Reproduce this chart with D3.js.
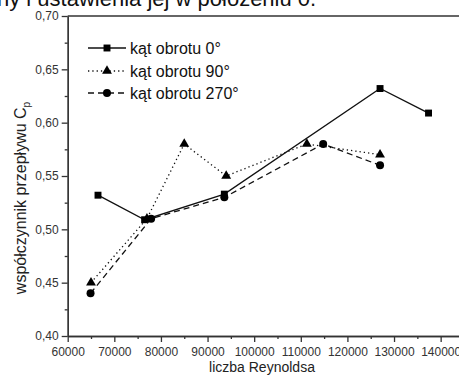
<!DOCTYPE html>
<html>
<head>
<meta charset="utf-8">
<script src="https://cdn.jsdelivr.net/npm/d3@7"></script>
<style>
  body { margin: 0; background: #fff; }
  svg { display: block; font-family: "Liberation Sans", Arial, sans-serif; }
</style>
</head>
<body>
<script>
// DATA
// =============================================================================

const seriesNames = ["kąt obrotu 0°", "kąt obrotu 90°", "kąt obrotu 270°"];

const reynolds0 = [66500, 76500, 93600, 127000, 137400];
const cp0 = [0.532, 0.509, 0.533, 0.632, 0.609];

const reynolds90 = [65000, 77000, 85000, 94000, 111300, 127000];
const cp90 = [0.45, 0.51, 0.58, 0.55, 0.58, 0.57];

const reynolds270 = [64900, 77900, 93600, 114800, 127000];
const cp270 = [0.44, 0.51, 0.53, 0.58, 0.56];

const xTicks = [60000, 70000, 80000, 90000, 100000, 110000, 120000, 130000, 140000];
const yTicks = [0.40, 0.45, 0.50, 0.55, 0.60, 0.65, 0.70];

// CONFIG
// =============================================================================

const width = 459;
const height = 379;

const xScale = d3.scaleLinear()
    .domain([60000, 144000])
    .range([67.7, 459.3]);

const yScale = d3.scaleLinear()
    .domain([0.40, 0.70])
    .range([336, 16]);

const axisColor = "#333";
const labelColor = "#333";

const series = [
  { name: seriesNames[0], xs: reynolds0, ys: cp0, dash: null, marker: "square" },
  { name: seriesNames[1], xs: reynolds90, ys: cp90, dash: "1.3,3", marker: "triangle" },
  { name: seriesNames[2], xs: reynolds270, ys: cp270, dash: "6,4", marker: "circle" }
];

function markerPath(type) {
  if (type === "square") return d3.symbol(d3.symbolSquare, 48)();
  if (type === "triangle") return d3.symbol(d3.symbolTriangle, 42)();
  return d3.symbol(d3.symbolCircle, 50)();
}

// SVG
// =============================================================================

const svg = d3.select("body")
    .append("svg")
    .attr("width", width)
    .attr("height", height);

// caption text cut off at the top of the page
svg.append("text")
    .attr("x", -3)
    .attr("y", 6)
    .attr("font-size", 22)
    .attr("fill", "#111")
    .text("ny i ustawienia jej w położeniu 0.");

// AXES
// =============================================================================

const fmtY = v => d3.format(".2f")(v).replace(".", ",");

const xAxis = svg.append("g")
    .attr("transform", `translate(0,${yScale(0.40)})`)
    .call(d3.axisBottom(xScale).tickValues(xTicks).tickFormat(d3.format("d")).tickSize(6).tickSizeOuter(0));

const xMinor = svg.append("g")
    .attr("transform", `translate(0,${yScale(0.40)})`)
    .call(d3.axisBottom(xScale).tickValues(d3.range(65000, 144000, 10000)).tickFormat("").tickSize(3).tickSizeOuter(0));

const yAxis = svg.append("g")
    .attr("transform", `translate(${xScale(60000)},0)`)
    .call(d3.axisLeft(yScale).tickValues(yTicks).tickFormat(fmtY).tickSize(6).tickSizeOuter(0));

const yMinor = svg.append("g")
    .attr("transform", `translate(${xScale(60000)},0)`)
    .call(d3.axisLeft(yScale).tickValues(d3.range(0.425, 0.7, 0.05)).tickFormat("").tickSize(3).tickSizeOuter(0));

[xAxis, xMinor, yAxis, yMinor].forEach(g => {
  g.selectAll("path, line").attr("stroke", axisColor).attr("stroke-width", 1.3);
  g.selectAll("text").attr("fill", labelColor).attr("font-size", 12)
      .attr("font-family", "'Liberation Sans', Arial, sans-serif");
});
xAxis.selectAll("text").attr("dy", "0.95em");

// top frame line
svg.append("line")
    .attr("x1", xScale(60000))
    .attr("x2", width)
    .attr("y1", yScale(0.70))
    .attr("y2", yScale(0.70))
    .attr("stroke", axisColor)
    .attr("stroke-width", 1.3);

// axis titles
svg.append("text")
    .attr("x", 262)
    .attr("y", 372)
    .attr("text-anchor", "middle")
    .attr("font-size", 14)
    .attr("fill", "#222")
    .text("liczba Reynoldsa");

const yTitle = svg.append("text")
    .attr("transform", "translate(26,198) rotate(-90)")
    .attr("text-anchor", "middle")
    .attr("font-size", 16)
    .attr("fill", "#222");
yTitle.append("tspan").text("współczynnik przepływu C");
yTitle.append("tspan").attr("font-size", 10).attr("dy", 4).text("p");

// SERIES
// =============================================================================

const line = d3.line()
    .x(d => xScale(d[0]))
    .y(d => yScale(d[1]));

series.forEach(s => {
  const pts = s.xs.map((x, i) => [x, s.ys[i]]);

  svg.append("path")
      .datum(pts)
      .attr("d", line)
      .attr("fill", "none")
      .attr("stroke", "#111")
      .attr("stroke-width", 1.3)
      .attr("stroke-dasharray", s.dash);

  svg.selectAll(null)
      .data(pts)
      .enter()
      .append("path")
      .attr("d", markerPath(s.marker))
      .attr("transform", d => `translate(${xScale(d[0])},${yScale(d[1])})`)
      .attr("fill", "#000");
});

// LEGEND
// =============================================================================

const legendY = [48, 71, 93];

const legend = svg.selectAll(".legend")
    .data(series)
    .enter()
    .append("g")
    .attr("class", "legend")
    .attr("transform", (d, i) => `translate(88,${legendY[i]})`);

legend.append("line")
    .attr("x1", 0)
    .attr("x2", 38)
    .attr("stroke", "#111")
    .attr("stroke-width", 1.3)
    .attr("stroke-dasharray", d => d.dash);

legend.append("path")
    .attr("d", d => markerPath(d.marker))
    .attr("transform", "translate(19,0)")
    .attr("fill", "#000");

legend.append("text")
    .attr("x", 42)
    .attr("dy", "0.35em")
    .attr("font-size", 16)
    .attr("fill", "#111")
    .text(d => d.name);
</script>
</body>
</html>
